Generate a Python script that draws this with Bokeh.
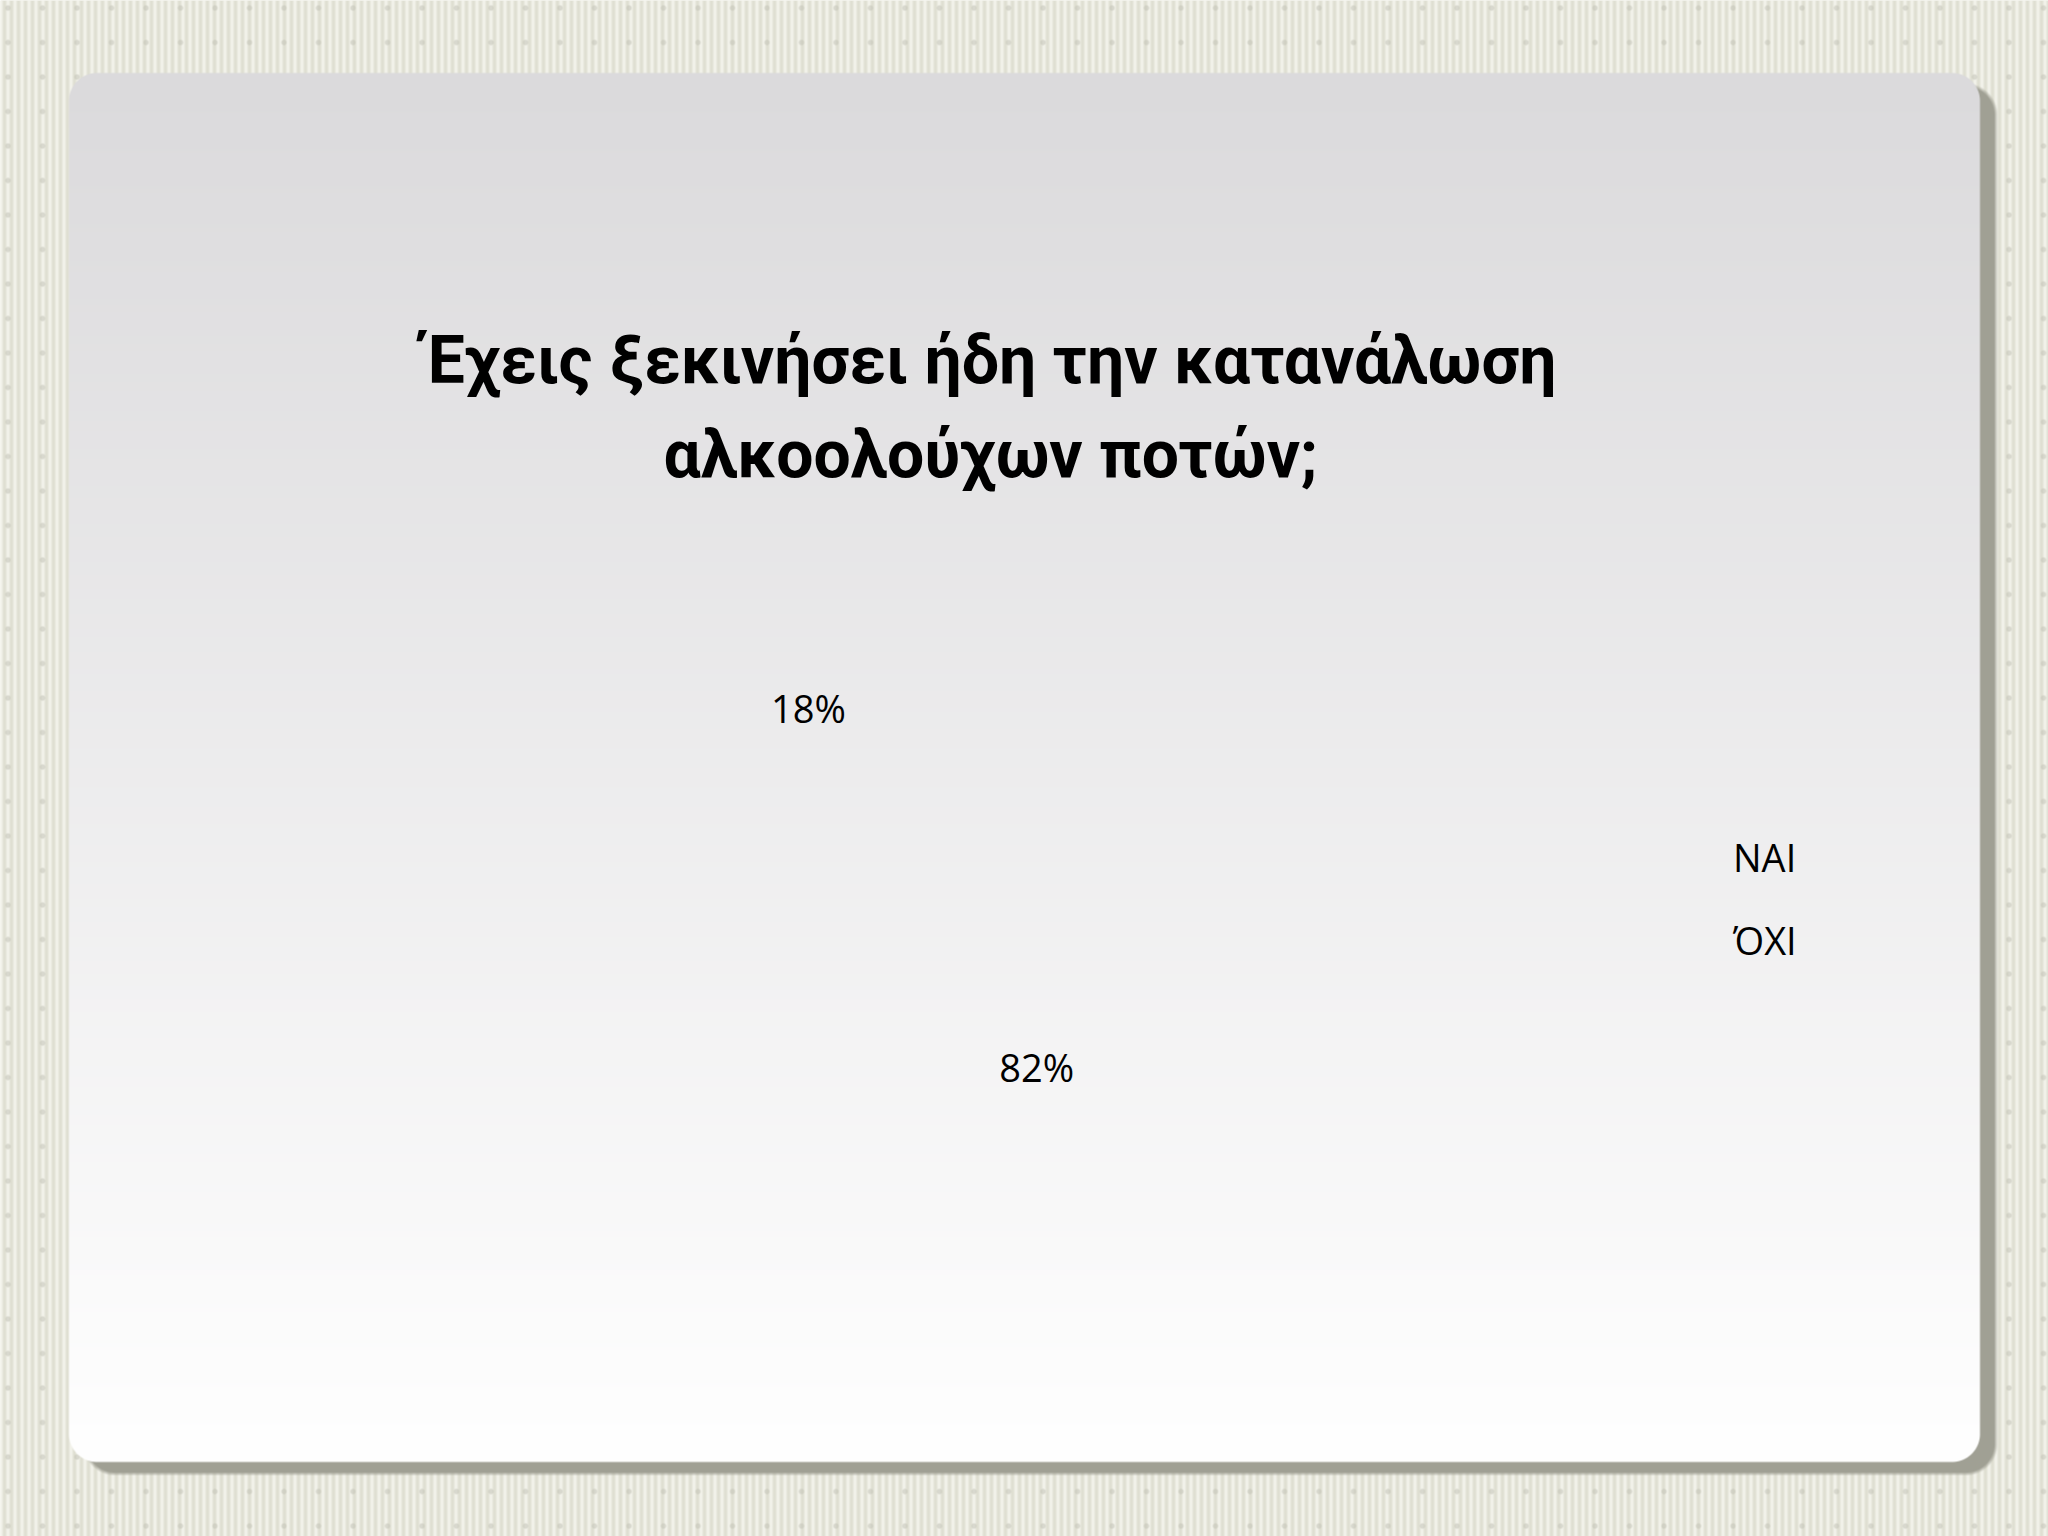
import numpy as np
from bokeh.plotting import figure
from bokeh.models import Range1d, Legend, LegendItem, ColumnDataSource
from bokeh.core.properties import value
from bokeh.embed import file_html
from bokeh.resources import INLINE

# ---------------- data ----------------
categories = ["ΝΑΙ", "ΌΧΙ"]
values = [18, 82]
pct_labels = ["18%", "82%"]
title_lines = ["Έχεις ξεκινήσει ήδη την κατανάλωση", "αλκοολούχων ποτών;"]

# ---------------- layout ----------------
W, H = 2048, 1536


def to_y(y_top):
    return H - y_top


# ---------------- background picture (slide decoration) ----------------
yy, xx = np.mgrid[0:H, 0:W].astype(np.float32)

light = np.array([244, 244, 236], dtype=np.float32)
dark = np.array([222, 222, 209], dtype=np.float32)
s = 0.5 + 0.5 * np.cos(2 * np.pi * xx / 7.0)
img = light[None, None, :] * s[..., None] + dark[None, None, :] * (1 - s[..., None])

# dots
dx = ((xx - 7 + 17.25) % 34.5) - 17.25
dy = ((yy - 7 + 17.25) % 34.5) - 17.25
dd = np.sqrt(dx * dx + dy * dy)
a_dot = np.clip(3.2 - dd, 0, 1) * 0.55
dot_col = np.array([196, 196, 184], dtype=np.float32)
img = img * (1 - a_dot[..., None]) + dot_col * a_dot[..., None]


def sdf(x0, y0, x1, y1, r):
    cx = (x0 + x1) / 2
    cy = (y0 + y1) / 2
    hx = (x1 - x0) / 2 - r
    hy = (y1 - y0) / 2 - r
    qx = np.abs(xx - cx) - hx
    qy = np.abs(yy - cy) - hy
    out = np.sqrt(np.maximum(qx, 0) ** 2 + np.maximum(qy, 0) ** 2)
    ins = np.minimum(np.maximum(qx, qy), 0)
    return out + ins - r


# shadow
d_sh = sdf(84, 84, 1995, 1473, 30)
a_sh = np.clip(0.5 - d_sh / 4.0, 0, 1)
sh_col = np.array([160, 160, 148], dtype=np.float32)
img = img * (1 - a_sh[..., None]) + sh_col * a_sh[..., None]

# panel with vertical gradient
d_p = sdf(68, 72, 1979, 1461, 28)
a_p = np.clip(0.5 - d_p, 0, 1)
t = np.clip((yy - 72) / (1461 - 72), 0, 1)
top = np.array([219, 218, 220], dtype=np.float32)
bot = np.array([255, 255, 255], dtype=np.float32)
pcol = top[None, None, :] * (1 - t[..., None]) + bot[None, None, :] * t[..., None]
img = img * (1 - a_p[..., None]) + pcol * a_p[..., None]

rgba = np.dstack([np.clip(img, 0, 255), np.full((H, W, 1), 255, dtype=np.float32)]).astype(np.uint8)
rgba = np.ascontiguousarray(np.flipud(rgba))
img32 = rgba.view(np.uint32).reshape(H, W)

# ---------------- figure ----------------
p = figure(width=W, height=H, x_range=Range1d(0, W), y_range=Range1d(0, H),
           output_backend="svg", toolbar_location=None, min_border=0,
           background_fill_color="#eeede2", border_fill_color="#eeede2")
p.axis.visible = False
p.grid.visible = False
p.outline_line_color = None

p.image_rgba(image=[img32], x=0, y=0, dw=W, dh=H)

# ---------------- pie (slices invisible as in the reference) ----------------
cx, cy = 922, to_y(887)
R = 330
R_LAB = 213
vals = np.array(values, dtype=float)
frac = vals / vals.sum()
cum = np.concatenate([[0], np.cumsum(frac)])
start = np.pi / 2 + 2 * np.pi * cum[:-1]
end = np.pi / 2 + 2 * np.pi * cum[1:]
mid = (start + end) / 2

src = ColumnDataSource(dict(cat=categories, start=start, end=end,
                            lx=cx + R_LAB * np.cos(mid), ly=cy + R_LAB * np.sin(mid),
                            lab=pct_labels))
wr = p.wedge(x=cx, y=cy, radius=R, start_angle="start", end_angle="end",
             fill_color="white", fill_alpha=0, line_alpha=0, source=src)

p.text(x="lx", y="ly", text="lab", source=src, text_align="center", text_baseline="middle",
       text_font=value("Open Sans"), text_font_size="38px", text_color="#000000")

# ---------------- title ----------------
tsrc = ColumnDataSource(dict(x=[990, 990], y=[to_y(360), to_y(454)], text=title_lines))
p.text(x="x", y="y", text="text", source=tsrc, text_align="center", text_baseline="middle",
       text_font=value("Roboto"), text_font_style="bold", text_font_size="66px",
       text_color="#000000")

# ---------------- legend ----------------
legend = Legend(items=[LegendItem(label=categories[i], renderers=[wr], index=i)
                       for i in range(len(categories))],
                location=(1727, 570), orientation="vertical",
                background_fill_alpha=0, border_line_alpha=0,
                label_text_font="Open Sans", label_text_font_size="38px",
                label_text_color="#000000",
                glyph_width=2, glyph_height=52, label_height=52, spacing=31,
                padding=0, margin=0, label_standoff=4)
p.add_layout(legend)

open("out.html", "w").write(file_html(p, INLINE))
